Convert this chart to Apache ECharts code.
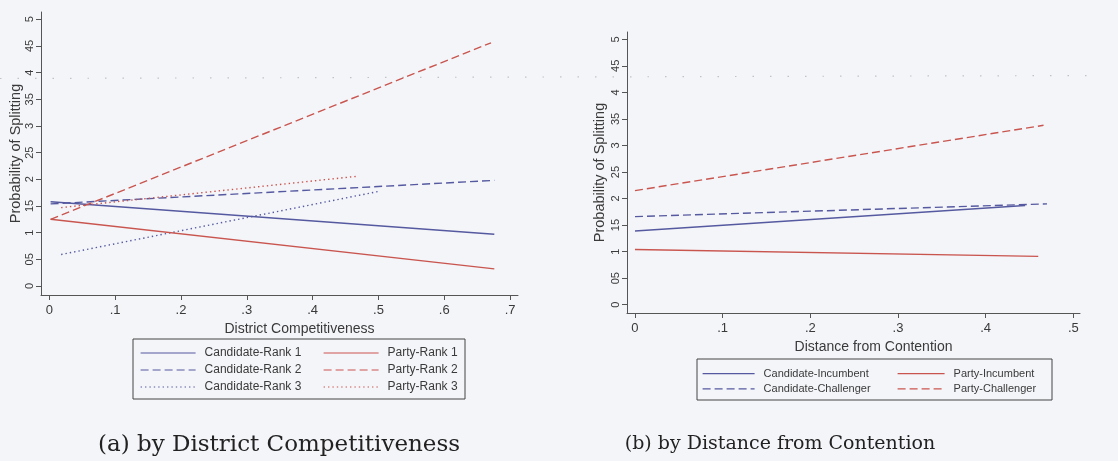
<!DOCTYPE html>
<html>
<head>
<meta charset="utf-8">
<script src="https://cdn.jsdelivr.net/npm/echarts@6/dist/echarts.min.js"></script>
<style>
html,body{margin:0;padding:0;background:#f4f5f9;}
#chart{width:1118px;height:461px;}
</style>
</head>
<body>
<div id="chart"></div>
<script>
// ---- tick values and labels ----
const yTickValues = [0, 0.05, 0.1, 0.15, 0.2, 0.25, 0.3, 0.35, 0.4, 0.45, 0.5];
const yTickLabels = ['0', '05', '1', '15', '2', '25', '3', '35', '4', '45', '5'];
const xTickValuesA = [0, 0.1, 0.2, 0.3, 0.4, 0.5, 0.6, 0.7];
const xTickLabelsA = ['0', '.1', '.2', '.3', '.4', '.5', '.6', '.7'];
const xTickValuesB = [0, 0.1, 0.2, 0.3, 0.4, 0.5];
const xTickLabelsB = ['0', '.1', '.2', '.3', '.4', '.5'];

// ---- panel (a): by District Competitiveness ----
const candRank1 = [[0.002, 0.158], [0.676, 0.097]];
const candRank2 = [[0.002, 0.154], [0.676, 0.198]];
const candRank3 = [[0.018, 0.059], [0.503, 0.178]];
const partyRank1 = [[0.002, 0.125], [0.676, 0.032]];
const partyRank2 = [[0.002, 0.125], [0.671, 0.456]];
const partyRank3 = [[0.018, 0.147], [0.470, 0.206]];

// ---- panel (b): by Distance from Contention ----
const candIncumbent = [[0.0, 0.139], [0.445, 0.187]];
const candChallenger = [[0.0, 0.166], [0.470, 0.190]];
const partyIncumbent = [[0.0, 0.104], [0.460, 0.091]];
const partyChallenger = [[0.0, 0.215], [0.466, 0.338]];

const BLUE = '#55599f';
const RED = '#c9554f';
const AXIS = '#555';
const TXT = '#3a3a3a';
const SANS = '"Liberation Sans", Arial, sans-serif';

function lineSeries(name, data, color, type, idx) {
  return {
    name: name, type: 'line', data: data,
    xAxisIndex: idx, yAxisIndex: idx,
    symbol: 'none', silent: true,
    lineStyle: {color: color, width: 1.4, type: type},
    itemStyle: {color: color}
  };
}
const DASH = [8, 4];
const DOT = [1.4, 3];

function labelFor(values, labels) {
  return function (v) {
    for (let i = 0; i < values.length; i++) {
      if (Math.abs(values[i] - v) < 1e-6) return labels[i];
    }
    return '';
  };
}

function xAxisCfg(idx, min, max, vals, labs, name, gap) {
  return {
    type: 'value', gridIndex: idx, min: min, max: max,
    splitLine: {show: false},
    axisLine: {show: true, onZero: false, lineStyle: {color: AXIS, width: 1}},
    axisTick: {show: true, length: 5, lineStyle: {color: AXIS}, customValues: vals},
    axisLabel: {show: true, customValues: vals, formatter: labelFor(vals, labs),
      color: TXT, fontFamily: SANS, fontSize: 13, margin: 9},
    name: name, nameLocation: 'middle', nameGap: gap,
    nameTextStyle: {color: TXT, fontFamily: SANS, fontSize: 14, padding: [0, 0, 0, 40]}
  };
}
function yAxisCfg(idx, min, max, gap) {
  return {
    type: 'value', gridIndex: idx, min: min, max: max,
    splitLine: {show: false},
    axisLine: {show: true, onZero: false, lineStyle: {color: AXIS, width: 1}},
    axisTick: {show: true, length: 5, lineStyle: {color: AXIS}, customValues: yTickValues},
    axisLabel: {show: true, customValues: yTickValues, formatter: labelFor(yTickValues, yTickLabels),
      rotate: 90, color: TXT, fontFamily: SANS, fontSize: 11, margin: 6},
    name: 'Probability of Splitting', nameLocation: 'middle', nameGap: gap,
    nameTextStyle: {color: TXT, fontFamily: SANS, fontSize: 14.5}
  };
}

function legendCfg(names, left, top, fontSize, itemWidth, gap) {
  return {
    data: names, orient: 'vertical', left: left, top: top,
    itemWidth: itemWidth, itemHeight: 14, itemGap: gap,
    padding: 0, selectedMode: false,
    itemStyle: {opacity: 0},
    lineStyle: {width: 1.2},
    textStyle: {color: TXT, fontFamily: SANS, fontSize: fontSize, padding: [0, 0, 0, 4]}
  };
}

const chart = echarts.init(document.getElementById('chart'), null, {renderer: 'canvas'});
chart.setOption({
  animation: false,
  backgroundColor: '#f4f5f9',
  grid: [
    {left: 41, top: 12, width: 477, height: 283},
    {left: 627, top: 32, width: 453, height: 281}
  ],
  xAxis: [
    xAxisCfg(0, -0.0126, 0.712, xTickValuesA, xTickLabelsA, 'District Competitiveness', 20),
    xAxisCfg(1, -0.0091, 0.5076, xTickValuesB, xTickLabelsB, 'Distance from Contention', 23)
  ],
  yAxis: [
    yAxisCfg(0, -0.0169, 0.5137, 18),
    yAxisCfg(1, -0.0156, 0.5138, 20)
  ],
  legend: [
    legendCfg(['Candidate-Rank 1', 'Candidate-Rank 2', 'Candidate-Rank 3'], 140, 347, 12, 55, 5),
    legendCfg(['Party-Rank 1', 'Party-Rank 2', 'Party-Rank 3'], 323, 347, 12, 55, 5),
    legendCfg(['Candidate-Incumbent', 'Candidate-Challenger'], 702, 368, 11, 52, 4),
    legendCfg(['Party-Incumbent', 'Party-Challenger'], 897, 368, 11, 47, 4)
  ],
  series: [
    lineSeries('Candidate-Rank 1', candRank1, BLUE, 'solid', 0),
    lineSeries('Candidate-Rank 2', candRank2, BLUE, DASH, 0),
    lineSeries('Candidate-Rank 3', candRank3, BLUE, DOT, 0),
    lineSeries('Party-Rank 1', partyRank1, RED, 'solid', 0),
    lineSeries('Party-Rank 2', partyRank2, RED, DASH, 0),
    lineSeries('Party-Rank 3', partyRank3, RED, DOT, 0),
    lineSeries('Candidate-Incumbent', candIncumbent, BLUE, 'solid', 1),
    lineSeries('Candidate-Challenger', candChallenger, BLUE, DASH, 1),
    lineSeries('Party-Incumbent', partyIncumbent, RED, 'solid', 1),
    lineSeries('Party-Challenger', partyChallenger, RED, DASH, 1)
  ],
  graphic: [
    {type: 'rect', shape: {x: 133, y: 339, width: 332, height: 60}, silent: true,
      style: {fill: 'none', stroke: '#444', lineWidth: 1}},
    {type: 'rect', shape: {x: 697, y: 359, width: 355, height: 41}, silent: true,
      style: {fill: 'none', stroke: '#444', lineWidth: 1}},
    {type: 'line', shape: {x1: 0, y1: 78.5, x2: 1100, y2: 75.5}, silent: true,
      style: {stroke: '#c2c2c6', lineWidth: 1.2, lineDash: [1.5, 16]}},
    {type: 'text', silent: true,
      style: {text: '(a) by District Competitiveness', x: 279, y: 445, align: 'center', verticalAlign: 'middle',
        fill: '#222', font: '23px "DejaVu Serif", serif'}},
    {type: 'text', silent: true,
      style: {text: '(b) by Distance from Contention', x: 780, y: 444, align: 'center', verticalAlign: 'middle',
        fill: '#222', font: '19px "DejaVu Serif", serif'}}
  ]
});
</script>
</body>
</html>
